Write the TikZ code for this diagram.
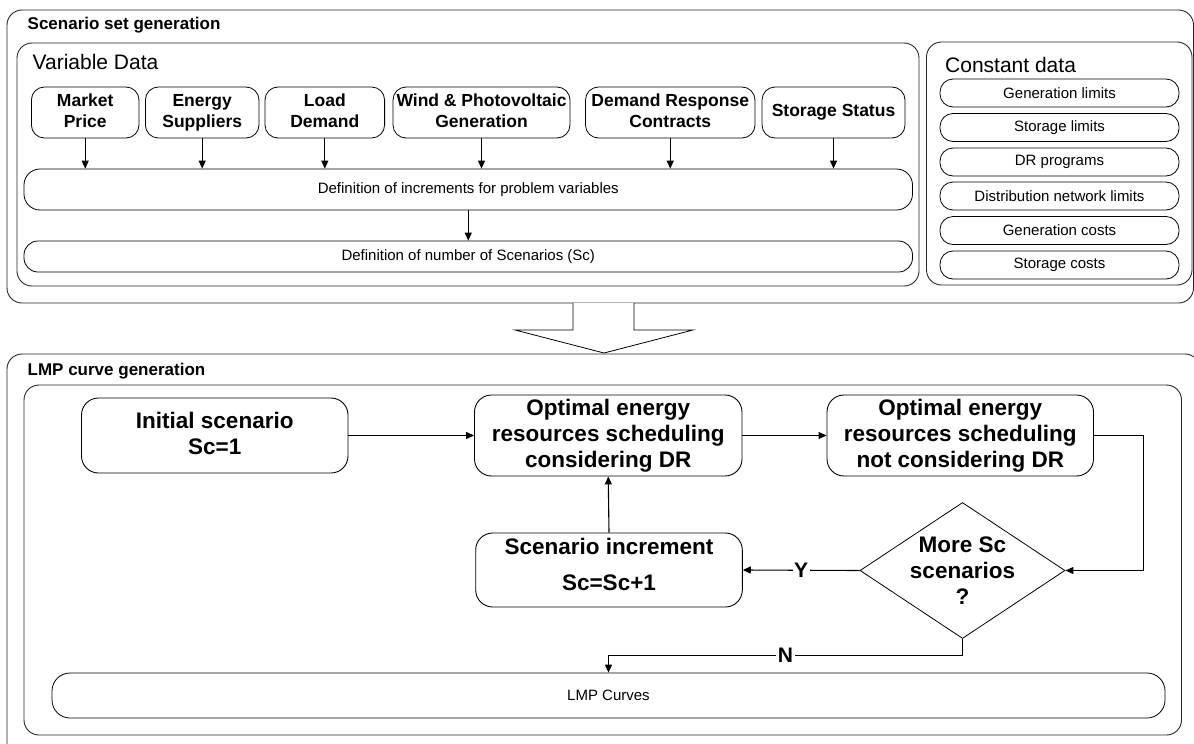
\documentclass[tikz,border=0pt]{standalone}
\usepackage{fontspec}
\setmainfont{Liberation Sans}
\usetikzlibrary{arrows.meta,shapes.geometric}

\begin{document}
\begin{tikzpicture}[x=1pt,y=-1pt,
  frame/.style={draw=black!85, line width=0.9pt, rounded corners=15pt, inner sep=0pt, outer sep=0pt},
  evenlines/.style={execute at begin node={\vphantom{Ag}}, execute at end node={\vphantom{Ag}}},
  varitem/.style={draw, line width=0.8pt, rounded corners=13pt, inner sep=0pt, align=center, evenlines,
                  font=\fontsize{17.5}{21}\selectfont\bfseries},
  widebox/.style={draw, line width=0.8pt, rounded corners=16pt, inner sep=0pt,
                  font=\fontsize{15}{18}\selectfont},
  constitem/.style={draw, line width=0.8pt, rounded corners=13pt, inner sep=0pt,
                  minimum width=239pt, minimum height=28pt, font=\fontsize{15}{18}\selectfont},
  flowbox/.style={draw, line width=0.9pt, rounded corners=17pt, inner sep=0pt, align=center, evenlines,
                  font=\fontsize{22.5}{26}\selectfont\bfseries},
  heading/.style={inner sep=0pt, anchor=base west},
  arr/.style={line width=1.1pt, -{Triangle[length=8pt,width=7pt]}},
  tag/.style={fill=white, inner sep=1.5pt, font=\fontsize{21}{24}\selectfont\bfseries}
]
\useasboundingbox (0,0) rectangle (1194,744);
\clip (0,0) rectangle (1194,744);

% ---------- Scenario set generation ----------
\node[frame, minimum width=1186.5pt, minimum height=293pt] (outerTop) at (600.25,156.5) {};
\node[heading, font=\fontsize{17}{20}\selectfont\bfseries] (titleTop) at (27.5,29.3) {Scenario set generation};

\node[frame, minimum width=902pt, minimum height=243pt] (varPanel) at (468,164.5) {};
\node[heading, font=\fontsize{21}{25}\selectfont] (varHead) at (32.5,69.5) {Variable Data};

\node[varitem, minimum width=107.6pt, minimum height=51pt] (mp) at (85.2,112.5) {Market\\Price};
\node[varitem, minimum width=113.6pt, minimum height=51pt] (es) at (202.2,112.5) {Energy\\Suppliers};
\node[varitem, minimum width=119.6pt, minimum height=51pt] (ld) at (324.8,112.5) {Load\\Demand};
\node[varitem, minimum width=177pt,   minimum height=51pt] (wp) at (481.5,112.5) {Wind \& Photovoltaic\\Generation};
\node[varitem, minimum width=169.5pt, minimum height=51pt] (dr) at (670.25,112.5) {Demand Response\\Contracts};
\node[varitem, minimum width=143pt,   minimum height=51pt] (ss) at (833.5,112.5) {Storage Status};

\node[widebox, minimum width=888.5pt, minimum height=41pt] (inc) at (468.25,189.5) {Definition of increments for problem variables};
\node[widebox, minimum width=888.5pt, minimum height=31pt, rounded corners=14pt] (nsc) at (468.25,256.5) {Definition of number of Scenarios (Sc)};

\foreach \n in {mp,es,ld,wp,dr,ss}
  \draw[arr] (\n.south) -- (\n.south |- inc.north);
\draw[arr] (inc.south) -- (nsc.north);

\node[frame, minimum width=265.5pt, minimum height=243pt] (constPanel) at (1059.25,163.5) {};
\node[heading, font=\fontsize{21}{25}\selectfont] (constHead) at (945,72) {Constant data};
\node[constitem] (c1) at (1059.5,93)    {Generation limits};
\node[constitem] (c2) at (1059.5,127.5) {Storage limits};
\node[constitem] (c3) at (1059.5,162)   {DR programs};
\node[constitem] (c4) at (1059.5,196)   {Distribution network limits};
\node[constitem] (c5) at (1059.5,230.5) {Generation costs};
\node[constitem] (c6) at (1059.5,265)   {Storage costs};

% hollow block arrow between the two stages
\draw[line width=0.8pt, fill=white] (573,303) -- (573,330) -- (515,330) -- (604,353)
  -- (693,330) -- (634,330) -- (634,303);

% ---------- LMP curve generation ----------
\node[frame, minimum width=1193pt, minimum height=406pt] (outerBot) at (603.5,557) {};
\node[heading, font=\fontsize{17}{20}\selectfont\bfseries] (titleBot) at (27.5,375) {LMP curve generation};
\node[frame, minimum width=1157.5pt, minimum height=350pt] (lmpPanel) at (602.75,560) {};

\node[flowbox, minimum width=266.5pt, minimum height=75pt] (init) at (214.75,435.5) {Initial scenario\\Sc=1};
\node[flowbox, minimum width=267.5pt, minimum height=81pt] (optdr) at (608.25,435.5) {Optimal energy\\resources scheduling\\considering DR};
\node[flowbox, minimum width=266.5pt, minimum height=81pt] (optno) at (960.25,435.5) {Optimal energy\\resources scheduling\\not considering DR};
\node[flowbox, minimum width=266.6pt, minimum height=74pt, text depth=12pt,
      font=\fontsize{22.5}{36}\selectfont\bfseries] (scinc) at (609,570) {Scenario increment\\Sc=Sc+1};

\node[diamond, draw, line width=0.8pt, minimum width=205pt, minimum height=136pt, inner sep=0pt] (dia) at (962.5,570.5) {};
\node[inner sep=0pt, align=center, font=\fontsize{22.5}{26}\selectfont\bfseries] (diaText) at (962.5,571) {More Sc\\scenarios\\?};

\node[widebox, minimum width=1113pt, minimum height=45pt, rounded corners=18pt] (lmp) at (608.5,695.5) {LMP Curves};

\coordinate (turnR) at (1143.5,570.5);
\coordinate (turnN) at (962.5,655.7);

\draw[arr] (init.east) -- (optdr.west);
\draw[arr] (optdr.east) -- (optno.west);
\draw[arr] (optno.east) -| (turnR) -- (dia.east);
\draw[arr] (dia.west) -- node[tag] (yLbl) {Y} (scinc.east);
\draw[arr] (scinc.north) -- (optdr.south);
\draw[arr] (dia.south) -- (turnN) -- node[tag] (nLbl) {N} (turnN -| lmp.north) -- (lmp.north);

\end{tikzpicture}
\end{document}
